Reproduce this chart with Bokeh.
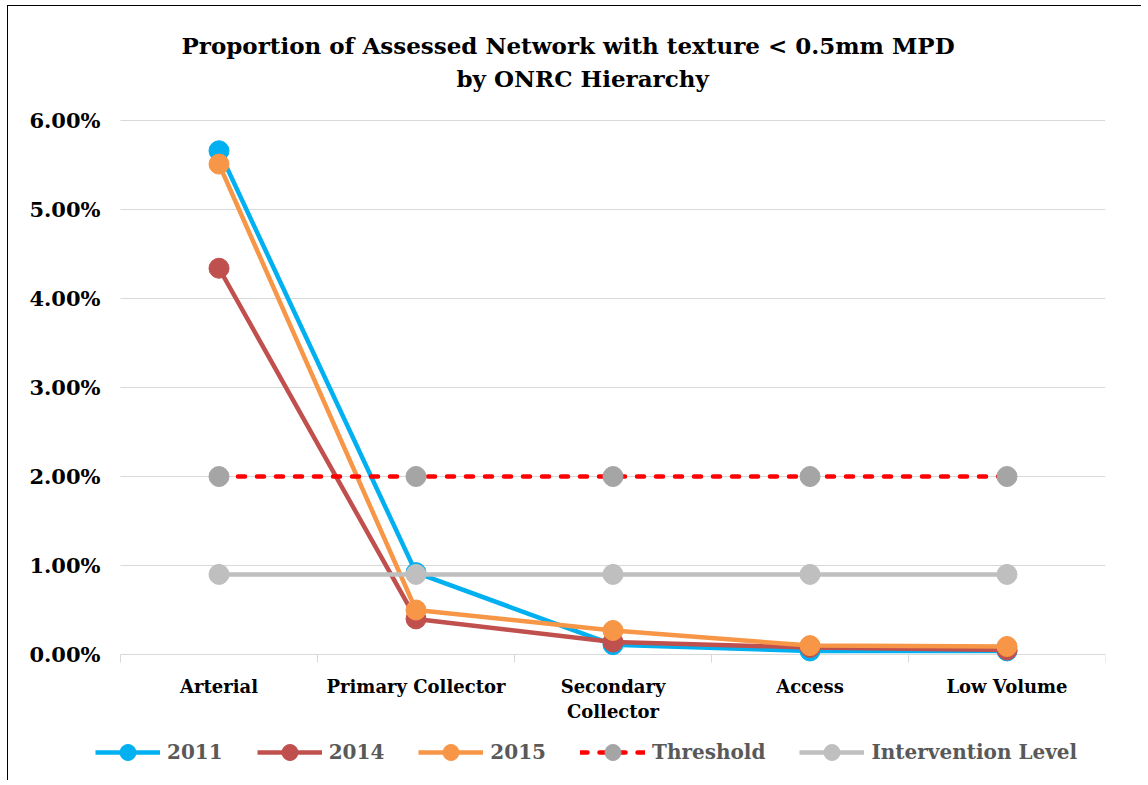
from bokeh.plotting import figure
from bokeh.models import (FixedTicker, NumeralTickFormatter, Range1d, Title,
                          Legend, LegendItem, LinearAxis)
from bokeh.embed import file_html
from bokeh.resources import INLINE

categories = ["Arterial", "Primary Collector", "Secondary Collector", "Access", "Low Volume"]
category_labels = ["Arterial", "Primary Collector", "Secondary\nCollector", "Access", "Low Volume"]
y2011 = [5.66, 0.92, 0.11, 0.04, 0.04]
y2014 = [4.34, 0.40, 0.14, 0.08, 0.05]
y2015 = [5.51, 0.50, 0.27, 0.10, 0.09]
threshold = [2.00, 2.00, 2.00, 2.00, 2.00]
intervention = [0.90, 0.90, 0.90, 0.90, 0.90]
y_ticks = [0.0, 0.01, 0.02, 0.03, 0.04, 0.05, 0.06]

FONT = "DejaVu Serif"
N = len(categories)
xs = [i + 0.5 for i in range(N)]

# layout geometry (pixels)
PLOT_W, PLOT_H = 985, 534            # data area 0..N, 0..6%
EXT_L, EXT_B, EXT_T = 100, 126, 14   # extra frame room for tick labels / legend
x_lo = -EXT_L * N / PLOT_W
y_lo = -EXT_B * y_ticks[-1] / PLOT_H
y_hi = y_ticks[-1] + EXT_T * y_ticks[-1] / PLOT_H

p = figure(frame_width=PLOT_W + EXT_L, frame_height=PLOT_H + EXT_B + EXT_T,
           output_backend="svg", toolbar_location=None,
           x_range=Range1d(x_lo, N), y_range=Range1d(y_lo, y_hi),
           x_axis_type=None, y_axis_type=None,
           min_border_left=12, min_border_right=36, min_border_top=114 - EXT_T,
           min_border_bottom=0)
p.background_fill_color = "white"
p.border_fill_color = "white"
p.outline_line_color = None
p.xgrid.visible = False
p.ygrid.visible = False
p.styles = {"border-left": "1px solid #000000", "border-top": "1px solid #000000",
            "margin-left": "7px", "margin-top": "5px"}

# Titles
t2 = Title(text="by ONRC Hierarchy", align="left", text_font=FONT,
           text_font_size="23px", text_font_style="bold", text_color="#000000",
           offset=336 + EXT_L, standoff=58 - 2 * EXT_T)
t1 = Title(text="Proportion of Assessed Network with texture < 0.5mm MPD", align="left",
           text_font=FONT, text_font_size="23px", text_font_style="bold",
           text_color="#000000", offset=61 + EXT_L, standoff=-50 + 2 * EXT_T)
p.add_layout(t2, "above")
p.add_layout(t1, "above")

# gridlines (horizontal, over the data area only)
grid_y = y_ticks[1:]
p.segment(x0=[0] * len(grid_y), x1=[N] * len(grid_y), y0=grid_y, y1=grid_y,
          line_color="#D9D9D9", line_width=1, level="underlay")

# y axis
yaxis = LinearAxis(fixed_location=0, bounds=(0, y_ticks[-1]))
yaxis.ticker = FixedTicker(ticks=y_ticks)
yaxis.formatter = NumeralTickFormatter(format="0.00%")
yaxis.axis_line_color = None
yaxis.major_tick_line_color = None
yaxis.minor_tick_line_color = None
yaxis.major_label_text_font = FONT
yaxis.major_label_text_font_size = "21px"
yaxis.major_label_text_font_style = "bold"
yaxis.major_label_text_color = "#000000"
yaxis.major_label_standoff = 14
p.add_layout(yaxis, "left")

# x axis
xaxis = LinearAxis(fixed_location=0, bounds=(0, N), level="underlay")
xaxis.ticker = FixedTicker(ticks=xs, minor_ticks=list(range(N + 1)))
xaxis.major_label_overrides = {x: lab for x, lab in zip(xs, category_labels)}
xaxis.axis_line_color = "#D9D9D9"
xaxis.axis_line_width = 1
xaxis.major_tick_line_color = None
xaxis.minor_tick_line_color = "#D9D9D9"
xaxis.minor_tick_out = 8
xaxis.minor_tick_in = 0
xaxis.major_tick_out = 0
xaxis.major_tick_in = 0
xaxis.major_label_text_font = FONT
xaxis.major_label_text_font_size = "18px"
xaxis.major_label_text_font_style = "bold"
xaxis.major_label_text_color = "#000000"
xaxis.major_label_standoff = 13
p.add_layout(xaxis, "below")

def frac(v):
    return [a / 100.0 for a in v]

items = []
series = [
    ("2011", y2011, "#00B0F0", "#00B0F0", None),
    ("2014", y2014, "#C0504D", "#C0504D", None),
    ("2015", y2015, "#F79646", "#F79646", None),
    ("Threshold", threshold, "#FF0000", "#A5A5A5", "7 12"),
    ("Intervention Level", intervention, "#BFBFBF", "#BFBFBF", None),
]
for name, vals, lc, mc, dash in series:
    kw = {}
    if dash:
        kw["line_dash"] = dash
        kw["line_cap"] = "round"
    ln = p.line(xs, frac(vals), line_color=lc, line_width=4.5, **kw)
    sc = p.scatter(xs, frac(vals), marker="circle", size=20, fill_color=mc,
                   line_color=mc)
    items.append(LegendItem(label=name, renderers=[ln, sc]))

legend = Legend(items=items, orientation="horizontal", location=(EXT_L - 25, 8),
                label_text_font=FONT, label_text_font_size="20px",
                label_text_font_style="bold", label_text_color="#595959",
                glyph_width=65, glyph_height=40, label_standoff=7, spacing=34,
                border_line_color=None, background_fill_alpha=0,
                margin=0, padding=0)
p.add_layout(legend, "center")

open("out.html", "w").write(file_html(p, INLINE))
